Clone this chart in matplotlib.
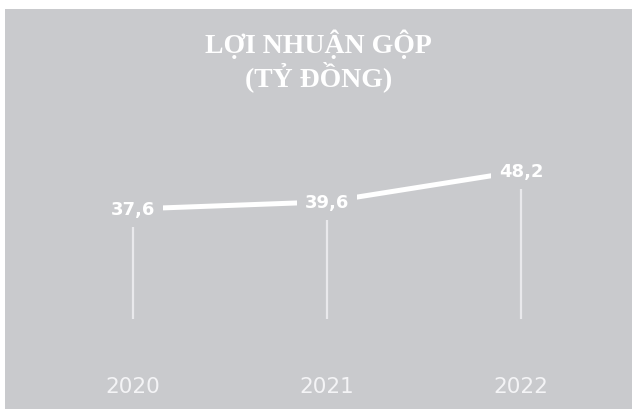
import matplotlib
matplotlib.use("Agg")
import matplotlib.pyplot as plt
from matplotlib.patches import Rectangle

years = ["2020", "2021", "2022"]
values = [37.6, 39.6, 48.2]
value_labels = ["37,6", "39,6", "48,2"]
title_lines = ["LỢI NHUẬN GỘP", "(TỶ ĐỒNG)"]

BG = "#c9cacd"
W, H = 637, 410
fig = plt.figure(figsize=(W / 100, H / 100), dpi=100, facecolor="white")

ax = fig.add_axes([0, 0, 1, 1])
ax.set_facecolor("none")
ax.add_patch(Rectangle((5 / W, 0), 627 / W, 400 / H, transform=ax.transAxes,
                       facecolor=BG, edgecolor="none", zorder=0))
# map index -> pixel x (133 + 194*i), value -> pixel y (210 + (37.6-v)*3.58 from top)
ax.set_xlim(-133 / 194, (W - 133) / 194)
ax.set_ylim(37.6 - (H - 210) / 3.58, 37.6 + 210 / 3.58)
ax.axis("off")

xs = list(range(len(years)))
ax.plot(xs, values, color="white", lw=3.6, solid_capstyle="butt", zorder=2)

# drop lines
drop_bottom = 7.0
for x, v in zip(xs, values):
    ax.vlines(x, drop_bottom, v - 5.0, color="#f2f2f4", lw=1.6, alpha=0.8, zorder=1)

for x, v, lab in zip(xs, values, value_labels):
    ax.text(x, v, lab, ha="center", va="center", color="white", fontsize=13,
            fontweight="bold", family="DejaVu Sans", zorder=3,
            bbox=dict(boxstyle="square,pad=0.45", facecolor=BG, edgecolor="none"))

for x, y in zip(xs, years):
    ax.text(x, 37.6 - (387 - 210) / 3.58, y, ha="center", va="center",
            color="#f4f4f6", fontsize=15.5, family="DejaVu Sans", zorder=3)

ax.text(0.5, 1 - 44 / H, title_lines[0], ha="center", va="center", color="white",
        fontsize=20, fontweight="bold", family="Liberation Serif", transform=ax.transAxes)
ax.text(0.5, 1 - 77 / H, title_lines[1], ha="center", va="center", color="white",
        fontsize=20, fontweight="bold", family="Liberation Serif", transform=ax.transAxes)

fig.savefig("out.png", dpi=100, facecolor="white")
